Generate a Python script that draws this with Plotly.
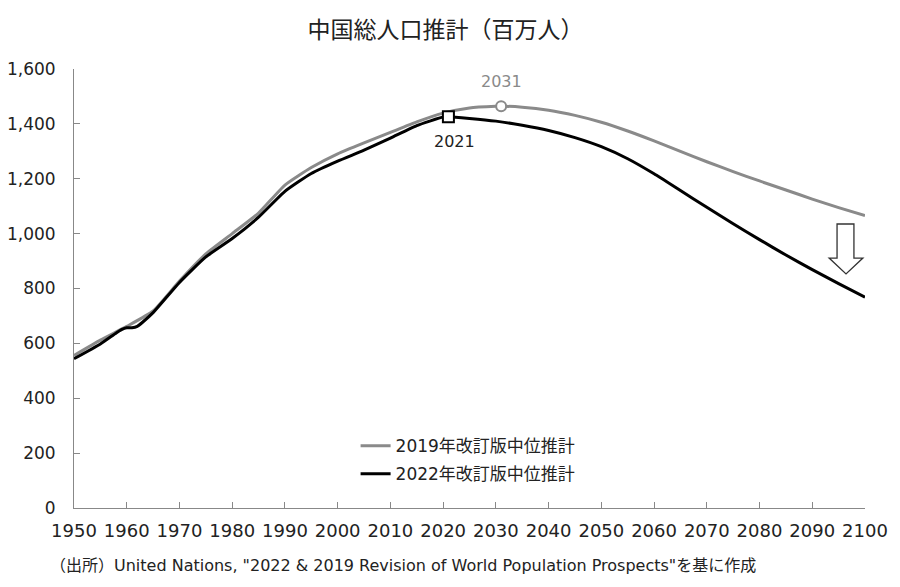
import plotly.graph_objects as go

# 2019 revision (medium variant), millions
years_2019 = [1950, 1955, 1960, 1965, 1970, 1975, 1980, 1985, 1990, 1995, 2000, 2005,
              2010, 2015, 2020, 2025, 2030, 2031, 2035, 2040, 2045, 2050, 2055, 2060,
              2065, 2070, 2075, 2080, 2085, 2090, 2095, 2100]
pop_2019 = [556, 612, 662, 718, 827, 926, 1000, 1075, 1177, 1241, 1291, 1331,
            1369, 1407, 1439, 1458, 1464, 1464.5, 1461, 1450, 1431, 1406, 1374, 1338,
            1300, 1262, 1226, 1192, 1159, 1126, 1095, 1066]

# 2022 revision (medium variant), millions
years_2022 = [1950, 1955, 1958, 1959, 1960, 1961, 1962, 1963, 1965, 1970, 1975, 1980,
              1985, 1990, 1995, 2000, 2005, 2010, 2015, 2020, 2021, 2025, 2030, 2035,
              2040, 2045, 2050, 2055, 2060, 2065, 2070, 2075, 2080, 2085, 2090, 2095, 2100]
pop_2022 = [544, 598, 638, 650, 657, 657, 662, 677, 712, 822, 915, 982,
            1060, 1154, 1219, 1264, 1304, 1348, 1394, 1425, 1426, 1420, 1410, 1395,
            1376, 1350, 1317, 1273, 1218, 1157, 1096, 1036, 978, 922, 869, 818, 768]

peak_2019 = (2031, 1464.5)
peak_2022 = (2021, 1426)

x_ticks = list(range(1950, 2101, 10))
y_ticks = list(range(0, 1601, 200))

GRAY = "#8a8a8a"
BLACK = "#000000"
FONT = "Verdana, DejaVu Sans, Noto Sans CJK JP, sans-serif"
JFONT = "DejaVu Sans, Noto Sans CJK JP, sans-serif"

fig = go.Figure()
fig.add_trace(go.Scatter(x=years_2019, y=pop_2019, mode="lines", name="2019年改訂版中位推計",
                         line=dict(color=GRAY, width=3, shape="spline", smoothing=0.5),
                         legendgroup="a"))
fig.add_trace(go.Scatter(x=years_2022, y=pop_2022, mode="lines", name="2022年改訂版中位推計",
                         line=dict(color=BLACK, width=3, shape="spline", smoothing=0.5),
                         legendgroup="b"))
fig.add_trace(go.Scatter(x=[peak_2019[0]], y=[peak_2019[1]], mode="markers", showlegend=False,
                         marker=dict(symbol="circle", size=10, color="white",
                                     line=dict(color=GRAY, width=2))))
fig.add_trace(go.Scatter(x=[peak_2022[0]], y=[peak_2022[1]], mode="markers", showlegend=False,
                         marker=dict(symbol="square", size=11, color="white",
                                     line=dict(color=BLACK, width=2))))

fig.add_annotation(x=peak_2019[0], y=peak_2019[1], text=str(peak_2019[0]), showarrow=False,
                   yshift=25, font=dict(family=FONT, size=16, color=GRAY))
fig.add_annotation(x=peak_2022[0], y=peak_2022[1], text=str(peak_2022[0]), showarrow=False,
                   yshift=-25, xshift=6, font=dict(family=FONT, size=16, color="#222"))

# hollow down arrow (block arrow)
ax0, ax1, hx0, hx1, xc = 2094.7, 2097.9, 2093.2, 2099.6, 2096.4
yt, yh, ytip = 1035, 911, 853
path = (f"M {ax0} {yt} L {ax1} {yt} L {ax1} {yh} L {hx1} {yh} L {xc} {ytip} "
        f"L {hx0} {yh} L {ax0} {yh} Z")
fig.add_shape(type="path", path=path, xref="x", yref="y",
              line=dict(color="#333", width=1.3), fillcolor="white")

fig.add_annotation(xref="paper", yref="paper", x=-0.033, y=-0.132, xanchor="left", yanchor="middle",
                   text='（出所）United Nations, "2022 & 2019 Revision of World Population Prospects"を基に作成',
                   showarrow=False, font=dict(family=JFONT, size=16, color="#222"))

fig.update_layout(
    width=900, height=587,
    paper_bgcolor="white", plot_bgcolor="white",
    margin=dict(l=66, r=43, t=61, b=87, autoexpand=False),
    title=dict(text="中国総人口推計（百万人）", x=0.486, xanchor="center", xref="container",
               y=0.9625, yanchor="middle", font=dict(family="Noto Sans CJK JP, sans-serif",
                                                     size=23, color="#222")),
    font=dict(family=FONT, color="#222"),
    legend=dict(x=0.356, y=0.182, xanchor="left", yanchor="top", bgcolor="rgba(0,0,0,0)",
                font=dict(family=JFONT, size=17, color="#222"), tracegroupgap=3,
                traceorder="grouped"),
    xaxis=dict(range=[1950, 2100], tickvals=x_ticks, showgrid=False, zeroline=False,
               showline=True, linecolor="#888", linewidth=1, ticks="inside", ticklen=6,
               tickcolor="#888", tickfont=dict(family=FONT, size=18, color="#222"),
               ticklabelstandoff=6),
    yaxis=dict(range=[0, 1600], tickvals=y_ticks, tickformat=",", showgrid=False, zeroline=False,
               showline=True, linecolor="#888", linewidth=1, ticks="inside", ticklen=6,
               tickcolor="#888", tickfont=dict(family=FONT, size=17, color="#222"),
               ticklabelstandoff=14),
)

fig.write_html("out.html")
